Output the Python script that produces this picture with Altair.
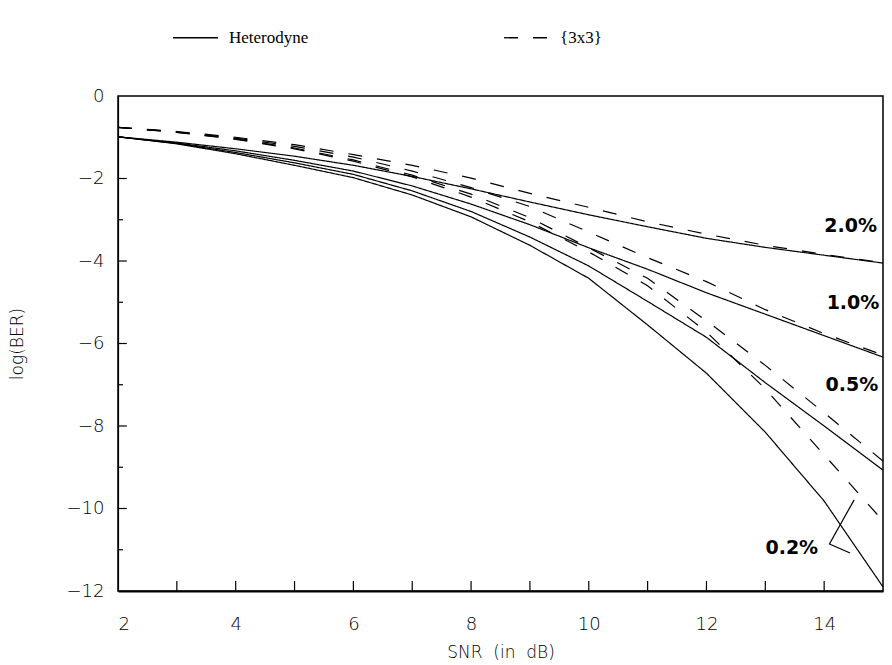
import altair as alt
import pandas as pd

# SNR values (dB)
snr = [2, 3, 4, 5, 6, 7, 8, 9, 10, 11, 12, 13, 14, 15]

# log(BER) for heterodyne receiver (solid) at phase-noise linewidths
het_20 = [-0.99, -1.12, -1.28, -1.46, -1.68, -1.95, -2.25, -2.57, -2.88, -3.17, -3.45, -3.67, -3.86, -4.05]
het_10 = [-0.99, -1.14, -1.33, -1.56, -1.82, -2.18, -2.62, -3.12, -3.68, -4.20, -4.77, -5.29, -5.81, -6.33]
het_05 = [-0.99, -1.15, -1.37, -1.62, -1.90, -2.30, -2.80, -3.42, -4.12, -4.98, -5.85, -6.95, -8.00, -9.07]
het_02 = [-0.99, -1.16, -1.40, -1.68, -1.98, -2.40, -2.93, -3.62, -4.42, -5.55, -6.72, -8.15, -9.82, -11.90]

# log(BER) for {3x3} receiver (dashed)
d3_20 = [-0.76, -0.86, -1.00, -1.18, -1.42, -1.68, -1.99, -2.36, -2.70, -3.05, -3.35, -3.62, -3.84, -4.04]
d3_10 = [-0.76, -0.87, -1.02, -1.22, -1.48, -1.82, -2.22, -2.68, -3.30, -3.92, -4.50, -5.18, -5.76, -6.28]
d3_05 = [-0.76, -0.88, -1.04, -1.26, -1.55, -1.92, -2.38, -2.95, -3.68, -4.42, -5.45, -6.53, -7.68, -8.85]
d3_02 = [-0.76, -0.88, -1.05, -1.28, -1.58, -1.96, -2.45, -3.05, -3.78, -4.60, -5.72, -7.10, -8.70, -10.30]

receivers = ["Heterodyne", "{3x3}"]

# curve labels
label_text = ["2.0%", "1.0%", "0.5%", "0.2%"]
label_x = [14.45, 14.49, 14.47, 13.45]
label_y = [-3.15, -5.02, -7.00, -10.96]

# bracket for the 0.2% label
bracket_x = [14.51, 14.09, 14.44]
bracket_y = [-9.79, -10.86, -11.08]

# inner tick marks
xtick_vals = [3, 4, 5, 6, 7, 8, 9, 10, 11, 12, 13, 14]
ytick_vals = [-1, -2, -3, -4, -5, -6, -7, -8, -9, -10, -11]

rows = []
for name, rec, ys in [
    ("het_20", "Heterodyne", het_20), ("het_10", "Heterodyne", het_10),
    ("het_05", "Heterodyne", het_05), ("het_02", "Heterodyne", het_02),
    ("d3_20", "{3x3}", d3_20), ("d3_10", "{3x3}", d3_10),
    ("d3_05", "{3x3}", d3_05), ("d3_02", "{3x3}", d3_02),
]:
    for xv, yv in zip(snr, ys):
        rows.append({"series": name, "receiver": rec, "snr": xv, "ber": yv})
df = pd.DataFrame(rows)

xscale = alt.Scale(domain=[2, 15], nice=False, zero=False)
yscale = alt.Scale(domain=[-12, 0], nice=False, zero=False)

AX_FONT = "DejaVu Sans"

xaxis = alt.Axis(values=[2, 4, 6, 8, 10, 12, 14], format="d", ticks=False, grid=False,
                 labelPadding=24, title="SNR\u00a0\u00a0(in\u00a0\u00a0dB)", titlePadding=11,
                 labelFontSize=18, titleFontSize=17, labelFont=AX_FONT, labelFontWeight=300,
                 titleFont=AX_FONT, titleFontWeight=300,
                 domainColor="black", domainWidth=2, labelColor="black", titleColor="black")
yaxis = alt.Axis(values=[0, -2, -4, -6, -8, -10, -12], format="d", ticks=False, grid=False,
                 labelPadding=14, title="log(BER)", titlePadding=40,
                 labelFontSize=18, titleFontSize=17, labelFont=AX_FONT, labelFontWeight=300,
                 titleFont=AX_FONT, titleFontWeight=300,
                 domainColor="black", domainWidth=1.2, labelColor="black", titleColor="black")

lines = alt.Chart(df).mark_line(color="black", strokeWidth=1.2).encode(
    x=alt.X("snr:Q", scale=xscale, axis=xaxis),
    y=alt.Y("ber:Q", scale=yscale, axis=yaxis),
    detail="series:N",
    strokeDash=alt.StrokeDash(
        "receiver:N",
        scale=alt.Scale(domain=receivers, range=[[1, 0], [14, 15]]),
        legend=alt.Legend(
            title=None, orient="none", legendX=54, legendY=-82,
            direction="horizontal", columns=2, columnPadding=192,
            symbolType="stroke", symbolSize=2025, symbolStrokeWidth=1.3,
            symbolStrokeColor="black", labelFont="Liberation Serif",
            labelFontSize=17, labelColor="black", labelOffset=10, labelLimit=0,
        ),
    ),
)

lab_df = pd.DataFrame({"t": label_text, "x": label_x, "y": label_y})
labels = alt.Chart(lab_df).mark_text(
    font="DejaVu Sans", fontWeight="bold", fontSize=19, color="black"
).encode(x=alt.X("x:Q", scale=xscale), y=alt.Y("y:Q", scale=yscale), text="t:N")

br_df = pd.DataFrame({"x": bracket_x, "y": bracket_y, "o": [0, 1, 2]})
bracket = alt.Chart(br_df).mark_line(color="black", strokeWidth=1.2).encode(
    x=alt.X("x:Q", scale=xscale), y=alt.Y("y:Q", scale=yscale), order="o:Q"
)

xt_df = pd.DataFrame({"x": xtick_vals, "y": [-12] * len(xtick_vals),
                      "y2": [-11.76] * len(xtick_vals)})
xticks = alt.Chart(xt_df).mark_rule(color="black", strokeWidth=1.2).encode(
    x=alt.X("x:Q", scale=xscale), y=alt.Y("y:Q", scale=yscale), y2="y2:Q"
)

yt_df = pd.DataFrame({"y": ytick_vals, "x": [2] * len(ytick_vals),
                      "x2": [2.15 if v % 2 == 0 else 2.085 for v in ytick_vals]})
yticks = alt.Chart(yt_df).mark_rule(color="black", strokeWidth=1.2).encode(
    y=alt.Y("y:Q", scale=yscale), x=alt.X("x:Q", scale=xscale), x2="x2:Q"
)

chart = alt.layer(lines, bracket, labels, xticks, yticks).properties(
    width=765, height=495,
    padding={"left": 110, "top": 88, "right": 1, "bottom": 70},
    autosize=alt.AutoSizeParams(type="none"),
    background="white",
).configure_view(stroke="black", strokeWidth=1.5)

chart.save("out.html", embed_options={"renderer": "svg", "actions": False})
